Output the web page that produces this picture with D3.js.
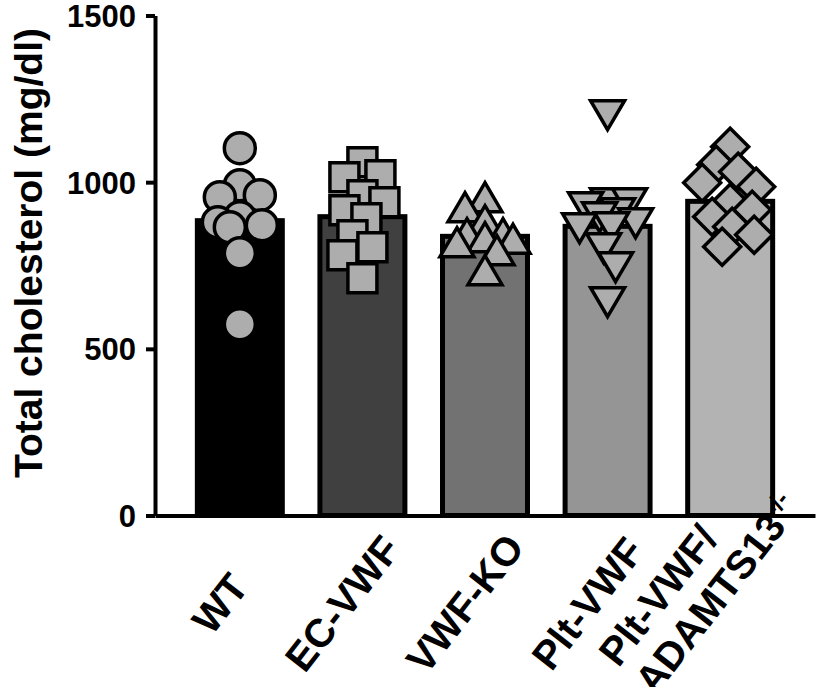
<!DOCTYPE html>
<html>
<head>
<meta charset="utf-8">
<script src="https://cdn.jsdelivr.net/npm/d3@7"></script>
<style>
  html, body { margin: 0; padding: 0; background: #fff; }
  svg { display: block; }
  text { font-family: "Liberation Sans", Arial, Helvetica, sans-serif; font-weight: bold; fill: #000; }
</style>
</head>
<body>
<svg id="chart" width="819" height="687"></svg>
<script>
// ---------------- data ----------------
const categories = ["WT", "EC-VWF", "VWF-KO", "Plt-VWF", "Plt-VWF/ADAMTS13-/-"];
const labelLines = [
  [{ t: "WT" }],
  [{ t: "EC-VWF" }],
  [{ t: "VWF-KO" }],
  [{ t: "Plt-VWF" }],
  [{ t: "Plt-VWF/" }, { t: "ADAMTS13", sup: "-/-" }]
];
const means = [892, 904, 845, 875, 950];
const wtValues = [1102, 991, 961, 955, 895, 880, 871, 865, 787, 574];
const ecValues = [1060, 1015, 1021, 961, 940, 916, 892, 841, 805, 781, 712];
const koValues = [955, 925, 886, 847, 847, 835, 830, 820, 796, 736];
const pltValues = [1201, 937, 937, 925, 907, 895, 877, 862, 865, 802, 745, 640];
const adamtsValues = [1106, 1052, 1031, 998, 986, 938, 917, 896, 866, 842, 806];
const yTicks = [0, 500, 1000, 1500];
const yTitle = "Total cholesterol (mg/dl)";

// ---------------- styles ----------------
const barFills = ["#000000", "#404040", "#727272", "#959595", "#b3b3b3"];
const pointFill = "#adadad";
const shapes = ["circle", "square", "triangle", "triangleDown", "diamond"];
const groups = [wtValues, ecValues, koValues, pltValues, adamtsValues];

const svg = d3.select("#chart");
const x0 = 155, x1 = 815, yBottom = 515.5, yTop = 15.5;

const x = d3.scaleBand().domain(categories).range([x0, x1])
  .paddingInner(0.266).paddingOuter(0.325);
const y = d3.scaleLinear().domain([0, 1500]).range([yBottom, yTop]);

// bars
const barStroke = 5;
svg.append("g").selectAll("rect").data(categories).join("rect")
  .attr("x", d => x(d) + barStroke / 2)
  .attr("width", x.bandwidth() - barStroke)
  .attr("y", (d, i) => y(means[i]) + barStroke / 2)
  .attr("height", (d, i) => yBottom - y(means[i]) - barStroke / 2)
  .attr("fill", (d, i) => barFills[i])
  .attr("stroke", "#000")
  .attr("stroke-width", barStroke);

// symbol paths centered on the bounding box
function shapePath(type) {
  switch (type) {
    case "circle": { const r = 15.5; return `M${r},0A${r},${r} 0 1,1 ${-r},0A${r},${r} 0 1,1 ${r},0Z`; }
    case "square": { const s = 14.5; return `M${-s},${-s}H${s}V${s}H${-s}Z`; }
    case "triangle": { const w = 17, h = 14.5; return `M0,${-h}L${w},${h}L${-w},${h}Z`; }
    case "triangleDown": { const w = 17, h = 14.5; return `M0,${h}L${w},${-h}L${-w},${-h}Z`; }
    case "diamond": { const d = 18.5; return `M0,${-d}L${d},0L0,${d}L${-d},0Z`; }
  }
}

// deterministic horizontal dodge (scatter spread like GraphPad)
function dodge(vals, minD, maxOff) {
  const placed = [];
  return vals.map((v, idx) => {
    const py = y(v);
    let chosen = null, fallback = 0, bestScore = -Infinity;
    const sign = idx % 2 === 0 ? 1 : -1;
    outer:
    for (let k = 0; k <= maxOff; k += 2) {
      const cands = k === 0 ? [0] : [sign * k, -sign * k];
      for (const dx of cands) {
        let dmin = Infinity;
        for (const p of placed) dmin = Math.min(dmin, Math.hypot(p.dx - dx, p.py - py));
        if (dmin >= minD) { chosen = dx; break outer; }
        if (dmin > bestScore) { bestScore = dmin; fallback = dx; }
      }
    }
    const dx = chosen === null ? fallback : chosen;
    placed.push({ dx, py });
    return { v, dx, py };
  });
}

const ptsG = svg.append("g");
groups.forEach((vals, gi) => {
  const cx = x(categories[gi]) + x.bandwidth() / 2;
  const pts = dodge(vals, 22, 28);
  ptsG.append("g").selectAll("path").data(pts).join("path")
    .attr("d", shapePath(shapes[gi]))
    .attr("transform", d => `translate(${cx + d.dx},${d.py})`)
    .attr("fill", pointFill)
    .attr("stroke", "#000")
    .attr("stroke-width", 3.5)
    .attr("stroke-linejoin", "miter");
});

// y axis
const yAxis = svg.append("g").attr("transform", `translate(${x0},0)`)
  .call(d3.axisLeft(y).tickValues(yTicks).tickFormat(d3.format("d"))
    .tickSize(9).tickSizeOuter(0).tickPadding(10));
yAxis.select(".domain").attr("stroke-width", 4).attr("stroke", "#000");
yAxis.selectAll(".tick line").attr("stroke-width", 4).attr("stroke", "#000");
yAxis.selectAll(".tick text").attr("font-size", 31).attr("font-family", null)
  .attr("font-weight", "bold").attr("dy", "0.35em").attr("fill", "#000");

// x axis (baseline only)
const xAxis = svg.append("g").attr("transform", `translate(0,${yBottom})`)
  .call(d3.axisBottom(x).tickSize(0).tickSizeOuter(0).tickFormat(""));
xAxis.select(".domain").attr("stroke-width", 4).attr("stroke", "#000");

// x labels: rotated; last line's main text centred under the bar, earlier lines stacked above, left-aligned
const labelFont = 40, lineH = 46, angle = -52, labelDx = -9, labelBase = 612;
categories.forEach((c, i) => {
  const cx = x(c) + x.bandwidth() / 2;
  const g = svg.append("g").attr("transform", `translate(${cx + labelDx},${labelBase}) rotate(${angle})`);
  const lines = labelLines[i];
  const n = lines.length;
  let lastMain = 0;
  const texts = lines.map((ln, li) => {
    const t = g.append("text").attr("font-size", labelFont)
      .attr("y", -(n - 1 - li) * lineH);
    const main = t.append("tspan").text(ln.t);
    if (ln.sup) t.append("tspan").attr("font-size", labelFont * 0.62)
      .attr("dy", "-0.6em").text(ln.sup);
    if (li === n - 1) lastMain = main.node().getComputedTextLength();
    return t;
  });
  texts.forEach(t => t.attr("x", -lastMain / 2));
});

// y title
svg.append("text")
  .attr("transform", `translate(28,253) rotate(-90)`)
  .attr("text-anchor", "middle")
  .attr("dominant-baseline", "central")
  .attr("font-size", 39)
  .text(yTitle);
</script>
</body>
</html>
